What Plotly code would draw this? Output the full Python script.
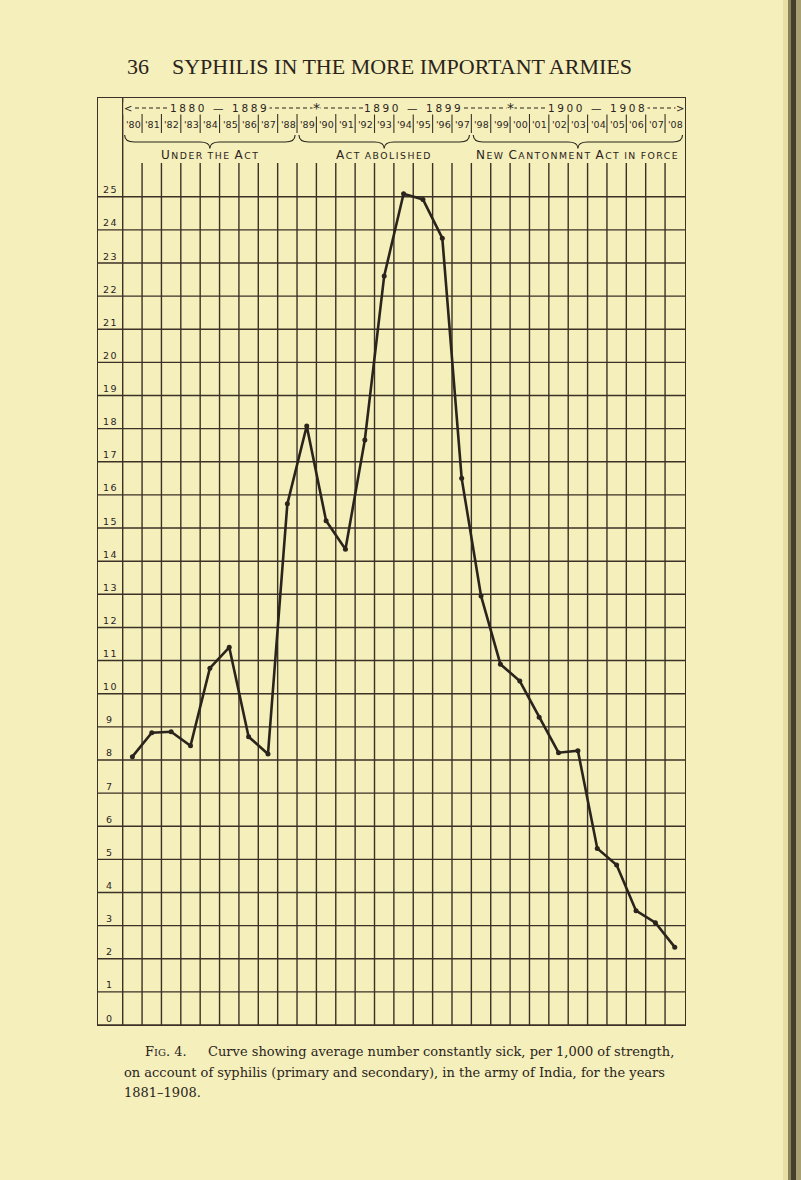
import plotly.graph_objects as go

# ---------------- data ----------------
years = ['80', '81', '82', '83', '84', '85', '86', '87', '88', '89', '90', '91', '92', '93', '94',
         '95', '96', '97', '98', '99', '00', '01', '02', '03', '04', '05', '06', '07', '08']
sick_per_1000 = [8.10, 8.82, 8.85, 8.43, 10.77, 11.40, 8.70, 8.18, 15.73, 18.08, 15.22, 14.36,
                 17.66, 22.61, 25.09, 24.92, 23.75, 16.5, 12.95, 10.89, 10.38, 9.29, 8.22, 8.28,
                 5.33, 4.83, 3.45, 3.09, 2.35]
y_ticks = list(range(0, 26))
decade_labels = ['1880 — 1889', '1890 — 1899', '1900 — 1908']
decade_spans = [(0, 9), (10, 19), (20, 28)]
group_labels = ['Under the Act', 'Act abolished', 'New Cantonment Act in force']
group_spans = [(0, 8), (9, 17), (18, 28)]
page_number = '36'
page_title = 'SYPHILIS IN THE MORE IMPORTANT ARMIES'
caption_lines = [
    'Curve showing average number constantly sick, per 1,000 of strength,',
    'on account of syphilis (primary and secondary), in the army of India, for the years',
    '1881–1908.',
]

# ---------------- geometry helpers ----------------
W, H = 801, 1180
ML, MR, MT, MB = 98, 116, 98, 155
COL0_PX, PX_PER_COL = 122.7, 19.37
ZERO_PY, PX_PER_UNIT = 1025, 33.13


def fx(px):
    return -0.5 + (px - COL0_PX) / PX_PER_COL


def fy(py):
    return (ZERO_PY - py) / PX_PER_UNIT


def px_paper(px):
    return (px - ML) / (W - ML - MR)


def py_paper(py):
    return (H - MB - py) / (H - MT - MB)


PAGE = '#f5efbb'
INK = '#2a241c'
GRID = '#3b3126'
GW = 1.4
HEAD_FONT = 'DejaVu Sans'
BODY_FONT = 'DejaVu Serif'
CAP_SIZE = 13.0


def small_caps(s, big, small, ls):
    out = ''
    run, run_big = '', None

    def flush(r, b):
        if not r:
            return ''
        size = big if b else small
        return f"<span style='font-size:{size}px;letter-spacing:{ls}px'>{r}</span>"
    for ch in s:
        if ch == ' ':
            out += flush(run, run_big)
            run, run_big = '', None
            out += ' '
            continue
        b = ch.isupper()
        if run_big is not None and b != run_big:
            out += flush(run, run_big)
            run = ''
        run += ch.upper()
        run_big = b
    out += flush(run, run_big)
    return out


fig = go.Figure()
fig.add_trace(go.Scatter(
    x=list(range(len(years))), y=sick_per_1000, mode='lines+markers',
    line=dict(color=INK, width=2.6), marker=dict(size=5, color=INK),
    hoverinfo='skip', showlegend=False))

shapes = []
top_grid = fy(163)
# horizontal rulings (span the label column too)
for v in y_ticks:
    shapes.append(dict(type='line', xref='paper', yref='y', x0=0, x1=1, y0=v, y1=v,
                       line=dict(color=GRID, width=GW), layer='below'))
# inner left border
shapes.append(dict(type='line', xref='x', yref='y', x0=-0.5, x1=-0.5, y0=0, y1=fy(MT),
                   line=dict(color=GRID, width=GW), layer='below'))
for k in range(1, len(years)):
    xb = k - 0.5
    shapes.append(dict(type='line', xref='x', yref='y', x0=xb, x1=xb, y0=0, y1=top_grid,
                       line=dict(color=GRID, width=GW), layer='below'))
    shapes.append(dict(type='line', xref='x', yref='y', x0=xb, x1=xb, y0=fy(133), y1=fy(114),
                       line=dict(color=GRID, width=1.1)))
# dashed decade line
shapes.append(dict(type='line', xref='x', yref='y', x0=fx(128), x1=fx(680), y0=fy(108), y1=fy(108),
                   line=dict(color=INK, width=1, dash='4px,3px')))
# braces
yt, ym, yb = fy(135), fy(142), fy(148.5)
for a, b in group_spans:
    x0, x1, xc = a - 0.4, b + 0.4, (a + b) / 2
    path = (f"M {x0},{yt} Q {x0},{ym} {x0 + 0.5},{ym} L {xc - 0.5},{ym} "
            f"Q {xc},{ym} {xc},{yb} Q {xc},{ym} {xc + 0.5},{ym} L {x1 - 0.5},{ym} "
            f"Q {x1},{ym} {x1},{yt}")
    shapes.append(dict(type='path', xref='x', yref='y', path=path,
                       line=dict(color=INK, width=1.1)))
# page edge (binding shadow)
for xa, xb2, col in [(783, 788, '#e6dfa6'), (788, 791, '#8a835a'), (791, 796, '#45402c'),
                     (796, 801, '#a8a070')]:
    shapes.append(dict(type='rect', xref='paper', yref='paper', x0=px_paper(xa), x1=px_paper(xb2),
                       y0=py_paper(H), y1=py_paper(0), line=dict(width=0), fillcolor=col,
                       layer='below'))

ann = []
# year row
for i, yv in enumerate(years):
    ann.append(dict(x=i + 0.04, y=fy(124), xref='x', yref='y', text="'" + yv, showarrow=False,
                    font=dict(family=HEAD_FONT, size=9.5, color=INK)))
# decade row
for lab, (a, b) in zip(decade_labels, decade_spans):
    ann.append(dict(x=(a + b) / 2, y=fy(108), xref='x', yref='y',
                    text=f"<span style='letter-spacing:2.6px'>{lab}</span>", showarrow=False,
                    bgcolor=PAGE, borderpad=0,
                    font=dict(family=HEAD_FONT, size=10.5, color=INK)))
for (a, b) in decade_spans[:-1]:
    ann.append(dict(x=b + 0.5, y=fy(108), xref='x', yref='y', text='*', showarrow=False,
                    bgcolor=PAGE, borderpad=0, font=dict(family=HEAD_FONT, size=14, color=INK)))
ann.append(dict(x=fx(123), y=fy(108), xref='x', yref='y', text='<', showarrow=False,
                xanchor='left', bgcolor=PAGE, borderpad=0,
                font=dict(family=HEAD_FONT, size=10, color=INK)))
ann.append(dict(x=fx(685), y=fy(108), xref='x', yref='y', text='>', showarrow=False,
                xanchor='right', bgcolor=PAGE, borderpad=0,
                font=dict(family=HEAD_FONT, size=10, color=INK)))
# group labels
for lab, (a, b) in zip(group_labels, group_spans):
    ann.append(dict(x=(a + b) / 2, y=fy(155), xref='x', yref='y',
                    text=small_caps(lab, 12, 9.3, 1.5), showarrow=False,
                    font=dict(family=HEAD_FONT, size=12, color=INK)))
# y labels
for v in y_ticks:
    ann.append(dict(x=fx(110), y=v, xref='x', yref='y', yshift=7,
                    text=f"<span style='letter-spacing:1.5px'>{v}</span>", showarrow=False,
                    font=dict(family=HEAD_FONT, size=9.5, color=INK)))
# page header
ann.append(dict(x=px_paper(125), y=py_paper(67), xref='paper', yref='paper', xanchor='left',
                yanchor='middle', text=page_number, showarrow=False,
                font=dict(family='Liberation Serif', size=22, color=INK)))
ann.append(dict(x=px_paper(170), y=py_paper(67), xref='paper', yref='paper', xanchor='left',
                yanchor='middle', text=page_title, showarrow=False,
                font=dict(family='Liberation Serif', size=22, color=INK)))
# caption
cap_rows = [(143, 1051, "F<span style='font-size:10px'>IG</span>. 4."),
            (206, 1051, caption_lines[0]),
            (122, 1072, caption_lines[1]),
            (122, 1092, caption_lines[2])]
for cx, cy, txt in cap_rows:
    ann.append(dict(x=px_paper(cx), y=py_paper(cy), xref='paper', yref='paper', xanchor='left',
                    yanchor='middle', text=txt, showarrow=False,
                    font=dict(family=BODY_FONT, size=CAP_SIZE, color=INK)))

fig.update_layout(
    width=W, height=H, autosize=False,
    margin=dict(l=ML, r=MR, t=MT, b=MB, pad=0),
    paper_bgcolor=PAGE, plot_bgcolor=PAGE,
    shapes=shapes, annotations=ann, showlegend=False,
    xaxis=dict(range=[fx(ML), fx(W - MR)], showgrid=False, zeroline=False, showticklabels=False,
               ticks='', showline=True, mirror=True, linecolor=GRID, linewidth=GW, fixedrange=True),
    yaxis=dict(range=[fy(H - MB), fy(MT)], tickvals=y_ticks, showgrid=False,
               zeroline=False, showticklabels=False, ticks='', showline=True,
               mirror=True, linecolor=GRID, linewidth=GW, fixedrange=True),
)

fig.write_html(
    'out.html',
    config={'displayModeBar': False, 'staticPlot': True},
    post_script="document.body.style.margin='0';document.body.style.overflow='hidden';"
                "document.body.style.background='" + PAGE + "';",
)
